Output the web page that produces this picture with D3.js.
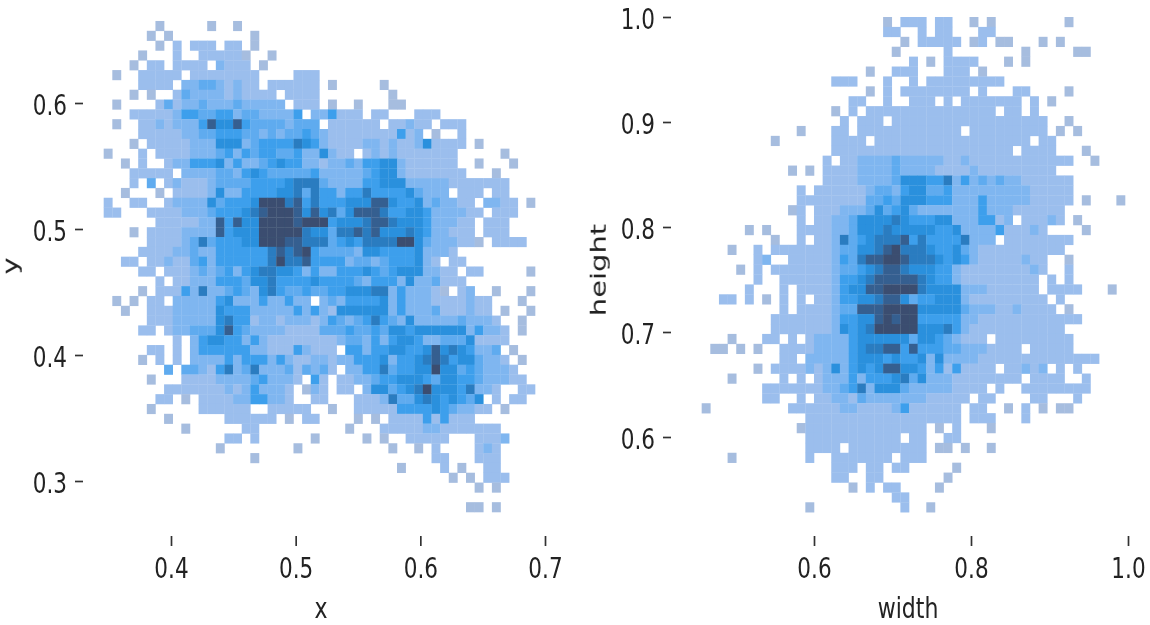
<!DOCTYPE html>
<html>
<head>
<meta charset="utf-8">
<script src="https://cdn.jsdelivr.net/npm/d3@7"></script>
<style>
  html, body { margin: 0; background: #fff; }
  text { font-family: "DejaVu Sans", sans-serif; fill: #222; }
</style>
</head>
<body>
<div id="dataviz"></div>
<script>
// binned counts, one string per row from the top, one digit per bin (0 = empty)
var xyCounts = [
  "0000001000 0010010000",
  "0000010100 0000000100",
  "0000001020 2220220100",
  "0000100020 0222221001",
  "0001022022 2203222010",
  "0100222220 2222222200 0022200000",
  "0000222203 3443232202 2222201000 0010000000",
  "0001010024 3333232222 0222200000 0001000000",
  "0100002423 3433343333 3022201001 0001100000",
  "0002222235 5445534433 3350335222 0220002220",
  "0100223233 3586685444 4344402222 2202232202 2200000000",
  "0000222223 3445554434 3445432222 2222523010 0200000000",
  "0001022222 3336663455 5576532222 3323223622 2201000000",
  "1000202222 3334535455 4453363220 2323222222 2000001000",
  "0010200233 5556353345 6553323343 5566322222 2001000100",
  "0002222203 3334435654 4444533333 4566322222 2200010000",
  "0002040232 2234444555 5677743333 5566633333 2222222000",
  "0010001022 2236335555 6674755355 7555564333 0222022000",
  "2002200233 3364555699 9785755566 6886556343 3220332201",
  "2200022223 3345556789 9986867468 8875566533 3322022200",
  "0000002222 2338586699 9989995666 7887666533 3220222000",
  "0001022223 3338566699 9997664778 7866676533 2220222000",
  "0000022223 4745556699 9887774565 7777996433 3221022220",
  "0000222233 4335555557 8789544443 6655556333 2000000000",
  "0022022322 4535555557 9778555534 4345556320 2200000000",
  "0000220222 3434535677 6653533555 6545666332 2022000001",
  "0000002022 3335554667 5555655554 3555363342 2200000000",
  "0000102225 3733454367 5445445566 6773533321 0230010001",
  "0101022033 3335633353 3533034355 5563533322 2232200010",
  "0010022233 3336555333 3353532666 6663533342 2232201001",
  "0000022233 3336755233 2333235434 5754363333 3433320010",
  "0000220233 4446854333 3222244454 4546656666 6635332010",
  "0000000020 3566553532 2222222344 3535665334 4462222000",
  "0000022020 3555555332 2253222055 3556655686 7653340100",
  "0000102020 3333535553 5322332335 5563556787 5664332010",
  "0000000404 4325734733 3424342033 5574556696 6454333200",
  "0000010002 2223333453 3320520223 3455666546 6554333220",
  "0000000222 2222323533 3201320220 3664567966 6573320022",
  "0000002201 0222233553 3200220002 2237446765 6546020220",
  "0000010000 0222222002 2222001002 2222555565 4332201000",
  "0000000100 0000222222 0102200001 0102222525 2220000000",
  "0000000001 0000002200 0000000010 0022222332 2222220000",
  "0000000000 0000220200 0000100000 1010022222 0002223000",
  "0000000000 0001000000 0010000000 0001001020 0002320000",
  "0000000000 0000000100 0000000000 0000000022 0002220000",
  "0000000000 0000000000 0000000000 0000100002 0100220000",
  "0000000000 0000000000 0000000000 0000000000 1010222000",
  "0000000000 0000000000 0000000000 0000000000 0001010000",
  "",
  "0000000000 0000000000 0000000000 0000000000 0011010000"
];

var sizeCounts = [
  "0000000000 0000000000 0010222022 0010100000 0001000000",
  "0000000000 0000000000 0022002022 0002200000",
  "0000000000 0000000000 0000102222 2012011000 1010000000",
  "0000000000 0000000000 0001000002 0000000010 0000110000",
  "0000000000 0000000000 0000020102 2220001010",
  "0000000000 0000000000 1002220002 2201000000",
  "0000000000 0000002220 0020020222 2222220000",
  "0000000000 0000000000 1020222222 2202000220 0001000000",
  "0000000000 0000000022 0020022202 0222222202 0100000000",
  "0000000000 0000001020 2222222222 2222202202",
  "0000000000 0000000202 2202222222 2222222222 2001000000",
  "0000000000 0010002202 2222222222 2022222222 2010100000",
  "0000000001 0000002222 0222222222 2222222220 2200000000",
  "0000000000 0000002222 2222222222 2222222022 2200010000",
  "0000000000 0000020223 3334333332 2322222222 2222001000",
  "0000000000 0101022223 3334333322 2232222222 2200000000",
  "0000000000 0000022223 3334666557 3534343322 2222000000",
  "0000000000 0020222222 3443566445 3333333332 2222000000",
  "0000000000 0022222222 4454666555 3335333332 2222010001",
  "0000000000 0120222333 4645643333 3335333222 2220000000",
  "0000000000 0020223346 6667655566 3335523022 2320100000",
  "0000001010 0022223346 6676666655 6333352223 2000010000",
  "0000000001 0020223745 6777857555 5733302222 2222000000",
  "0000100202 2222223446 6789777655 6432222222 2220000000",
  "0000000230 0222223547 8899877765 6532222232 2001000000",
  "0000010202 2222223445 6788766655 3222222223 2002000000",
  "0000000200 2222223556 7888887655 3222222222 0202000000",
  "0000002000 2022223566 8899997666 6333222222 0222200010",
  "0002202010 2020223556 6788645566 6322222222 2020000000",
  "0000000000 2022223448 8899996666 6433322322 2201000000",
  "0000000002 2222223556 6898995555 5332222222 2222200000",
  "0000000002 2222223656 7999996667 5322222222 2220000000",
  "0000100022 0202333356 6666646654 3222022222 2222000000",
  "0011010100 2222333356 7788585554 4333222202 2222000000",
  "0000000000 2203333356 6656556363 3332222222 2222222000",
  "0000000102 2223236356 5688665352 5222202232 3020200000",
  "0000100000 2020233353 5556746333 2222222202 2220020000",
  "0000000022 2222233457 3666433333 2222020022 2222220000",
  "0000000022 0020223324 3333333222 2202200002 2000200000",
  "0100000000 0222222332 2223522222 2022001020 1011000000",
  "0000000000 0002222222 2222222222 2022200020",
  "0000000000 0012222222 2222222010 2000100000",
  "0000000000 0002222222 2222022002 2000000000",
  "0000000000 0002222022 2222222011 0100100000",
  "0000100000 0002002222 2220222000",
  "0000000000 0000002220 2202200000 1000000000",
  "0000000000 0000002200 2200000001",
  "0000000000 0000000010 2022000010",
  "0000000000 0000000000 0002200000",
  "0000000000 0001000000 0000200100"
];

var xyXTicks = [0.4, 0.5, 0.6, 0.7];
var xyYTicks = [0.3, 0.4, 0.5, 0.6];
var sizeXTicks = [0.6, 0.8, 1.0];
var sizeYTicks = [0.6, 0.7, 0.8, 0.9, 1.0];

var width = 1150, height = 625;

var svg = d3.select("#dataviz")
  .append("svg")
    .attr("width", width)
    .attr("height", height);

// the picture is a soft upscaled image, so everything gets a small blur
svg.append("defs").append("filter")
    .attr("id", "soft")
  .append("feGaussianBlur")
    .attr("stdDeviation", 0.6);

var levels = [1, 2, 3, 4, 5, 6, 7, 8, 9];
var myColor = d3.scaleLinear()
  .domain(levels)
  .range(["#a6bddf", "#9bbeed", "#7fb6f0", "#5eabef", "#3d9fec", "#2a90dd", "#2c7cc0", "#365f90", "#3a4e70"]);

function heatmap(panel) {
  var nBins = 50;

  var x = d3.scaleLinear().domain(panel.xDomain).range(panel.xRange);
  var y = d3.scaleLinear().domain(panel.yDomain).range(panel.yRange);

  // bin edges
  var xEdge = d3.scaleLinear().domain([0, nBins]).range(panel.xBins);
  var yEdge = d3.scaleLinear().domain([0, nBins]).range(panel.yBins);

  var cells = [];
  panel.counts.forEach(function(row, r) {
    row.replace(/ /g, "").split("").forEach(function(v, c) {
      if (+v > 0) cells.push({row: r, col: c, value: +v});
    });
  });

  var g = svg.append("g").attr("filter", "url(#soft)");

  g.selectAll("rect")
    .data(cells)
    .join("rect")
      .attr("x", function(d) { return x(xEdge(d.col)); })
      .attr("y", function(d) { return y(yEdge(d.row)); })
      .attr("width", function(d) { return x(xEdge(d.col + 1)) - x(xEdge(d.col)) + 0.3; })
      .attr("height", function(d) { return y(yEdge(d.row + 1)) - y(yEdge(d.row)) + 0.3; })
      .style("fill", function(d) { return myColor(d.value); });

  // 横軸
  var xAxis = g.append("g")
    .attr("transform", "translate(0," + panel.xAxisY + ")")
    .call(d3.axisBottom(x).tickValues(panel.xTicks).tickFormat(d3.format(".1f")).tickSize(10).tickPadding(12));
  // 縦軸
  var yAxis = g.append("g")
    .attr("transform", "translate(" + panel.yAxisX + ",0)")
    .call(d3.axisLeft(y).tickValues(panel.yTicks).tickFormat(d3.format(".1f")).tickSize(8).tickPadding(8));

  [xAxis, yAxis].forEach(function(a) {
    a.select(".domain").remove();
    a.selectAll(".tick line").attr("stroke", "#333").attr("stroke-width", 1.7);
    a.selectAll(".tick text")
      .style("font-size", "28px")
      .style("font-family", "'DejaVu Sans', sans-serif");
  });

  // the reference is squeezed sideways, so the glyphs are squeezed the same way
  xAxis.selectAll(".tick text")
    .attr("transform", "scale(0.77,1)");
  yAxis.selectAll(".tick text")
    .attr("x", 0)
    .attr("dy", "0.41em")
    .attr("transform", "translate(-16,0) scale(0.77,1)");

  g.append("text")
    .attr("transform", "translate(" + panel.xLabelX + ",618) scale(0.76,1)")
    .attr("text-anchor", "middle")
    .style("font-size", "29px")
    .text(panel.xLabel);

  g.append("text")
    .attr("transform", "translate(" + panel.yLabelX + "," + panel.yLabelY + ") scale(0.76,1) rotate(-90)")
    .attr("text-anchor", "middle")
    .style("font-size", "29px")
    .text(panel.yLabel);
}

heatmap({
  counts: xyCounts,
  xDomain: [0.4, 0.7], xRange: [171, 545],
  yDomain: [0.3, 0.6], yRange: [481, 103],
  xBins: [0.346, 0.692], yBins: [0.6651, 0.2754],
  xTicks: xyXTicks, yTicks: xyYTicks,
  xAxisY: 536, yAxisX: 83,
  xLabel: "x", xLabelX: 321,
  yLabel: "y", yLabelX: 18, yLabelY: 266
});

heatmap({
  counts: sizeCounts,
  xDomain: [0.6, 1.0], xRange: [814, 1128],
  yDomain: [0.6, 1.0], yRange: [437, 17],
  xBins: [0.4459, 0.9962], yBins: [1.0, 0.5284],
  xTicks: sizeXTicks, yTicks: sizeYTicks,
  xAxisY: 536, yAxisX: 671,
  xLabel: "width", xLabelX: 908,
  yLabel: "height", yLabelX: 606, yLabelY: 270
});
</script>
</body>
</html>
